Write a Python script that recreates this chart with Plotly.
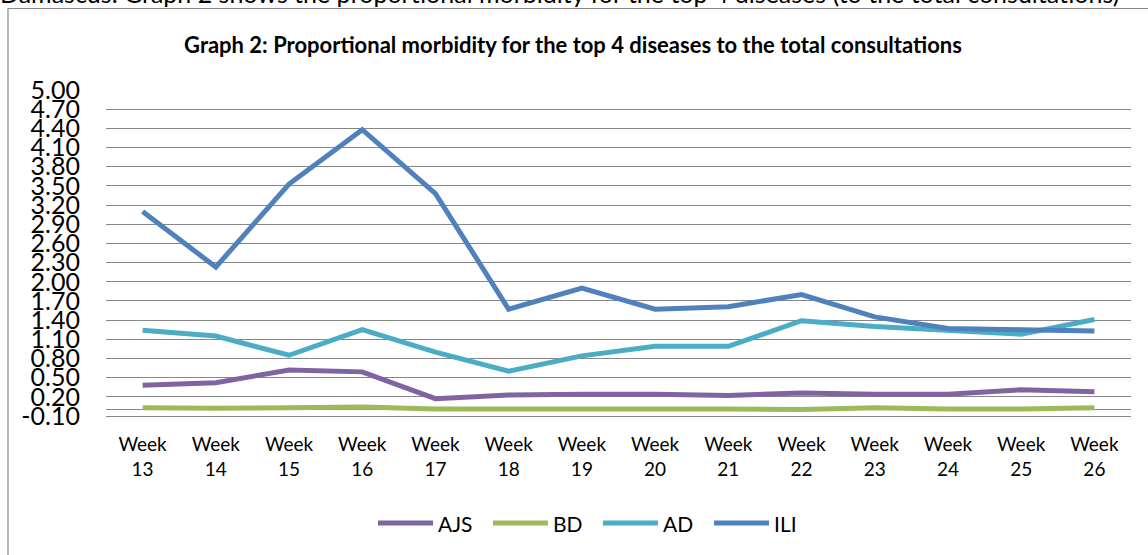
import plotly.graph_objects as go

weeks = ["Week<br>13", "Week<br>14", "Week<br>15", "Week<br>16", "Week<br>17", "Week<br>18", "Week<br>19",
         "Week<br>20", "Week<br>21", "Week<br>22", "Week<br>23", "Week<br>24", "Week<br>25", "Week<br>26"]
ajs = [0.38, 0.42, 0.62, 0.59, 0.17, 0.23, 0.24, 0.24, 0.22, 0.26, 0.24, 0.24, 0.31, 0.28]
bd = [0.03, 0.02, 0.03, 0.04, 0.01, 0.01, 0.02, 0.01, 0.01, 0.00, 0.03, 0.01, 0.01, 0.03]
ad = [1.24, 1.15, 0.85, 1.25, 0.90, 0.60, 0.84, 0.99, 0.99, 1.39, 1.30, 1.24, 1.18, 1.41]
ili = [3.10, 2.23, 3.53, 4.38, 3.38, 1.57, 1.90, 1.57, 1.61, 1.80, 1.45, 1.27, 1.25, 1.23]
series_names = ["AJS", "BD", "AD", "ILI"]
series_values = [ajs, bd, ad, ili]
colors = ["#8064A2", "#9BBB59", "#4BACC6", "#4F81BD"]
y_tick_values = [-0.1, 0.2, 0.5, 0.8, 1.1, 1.4, 1.7, 2.0, 2.3, 2.6, 2.9, 3.2, 3.5, 3.8, 4.1, 4.4, 4.7, 5.0]
y_tick_labels = ["-0.10", "0.20", "0.50", "0.80", "1.10", "1.40", "1.70", "2.00", "2.30", "2.60",
                 "2.90", "3.20", "3.50", "3.80", "4.10", "4.40", "4.70", "5.00"]

title_text = "Graph 2: Proportional morbidity for the top 4 diseases to the total consultations"
top_text = "Damascus. Graph 2 shows the proportional morbidity for the top 4 diseases (to the total consultations)"

FW, FH = 1148, 555
L, R, T, B = 106, 1131, 90, 416
PW, PH = R - L, B - T


def px(x):
    return (x - L) / PW


def py(y):
    return (B - y) / PH


fig = go.Figure()
for name, vals, col in zip(series_names, series_values, colors):
    fig.add_trace(go.Scatter(x=weeks, y=vals, mode="lines", name=name,
                             line=dict(color=col, width=5), showlegend=False))

font = "Lato, 'Open Sans', sans-serif"
shapes = []
annotations = []
# chart border
shapes.append(dict(type="rect", xref="paper", yref="paper", x0=px(8), x1=px(1170),
                   y0=py(580), y1=py(8.5), line=dict(color="#878787", width=1.2),
                   fillcolor="rgba(0,0,0,0)", layer="below"))

# manual legend
leg_x = [378, 493, 603, 714]
for name, col, x0 in zip(series_names, colors, leg_x):
    shapes.append(dict(type="line", xref="paper", yref="paper", x0=px(x0), x1=px(x0 + 55),
                       y0=py(523), y1=py(523), line=dict(color=col, width=5)))
    annotations.append(dict(text=name, xref="paper", yref="paper", x=px(x0 + 58), y=py(523),
                            xanchor="left", yanchor="middle", showarrow=False,
                            font=dict(family=font, size=21, color="#000000")))

annotations.append(dict(text=top_text, xref="paper", yref="paper", x=px(1121), y=py(10),
                        xanchor="right", yanchor="bottom", showarrow=False,
                        font=dict(family=font, size=25, color="#000000")))

fig.update_layout(
    width=FW, height=FH,
    margin=dict(l=L, r=FW - R, t=T, b=FH - B),
    paper_bgcolor="white", plot_bgcolor="white",
    title=dict(text="<b>" + title_text + "</b>", x=573 / FW, xanchor="center",
               y=1 - 45 / FH, yanchor="middle", yref="container", xref="container",
               font=dict(family=font, size=22, color="#000000")),
    shapes=shapes, annotations=annotations,
    xaxis=dict(showgrid=False, showline=True, linecolor="#878787", linewidth=1,
               tickfont=dict(family=font, size=19, color="#000000"),
               ticks="", ticklabelstandoff=11, range=[-0.5, 13.5]),
    yaxis=dict(range=[-0.1005, 5.0005], tickmode="array", tickvals=y_tick_values,
               ticktext=y_tick_labels,
               showgrid=True, gridcolor="#878787", gridwidth=1,
               zeroline=True, zerolinecolor="#878787", zerolinewidth=1,
               showline=False, ticks="", ticklabelstandoff=25,
               tickfont=dict(family=font, size=25, color="#000000")),
)

fig.write_html("out.html", config={"displayModeBar": False},
               post_script="document.body.style.margin='0';")
